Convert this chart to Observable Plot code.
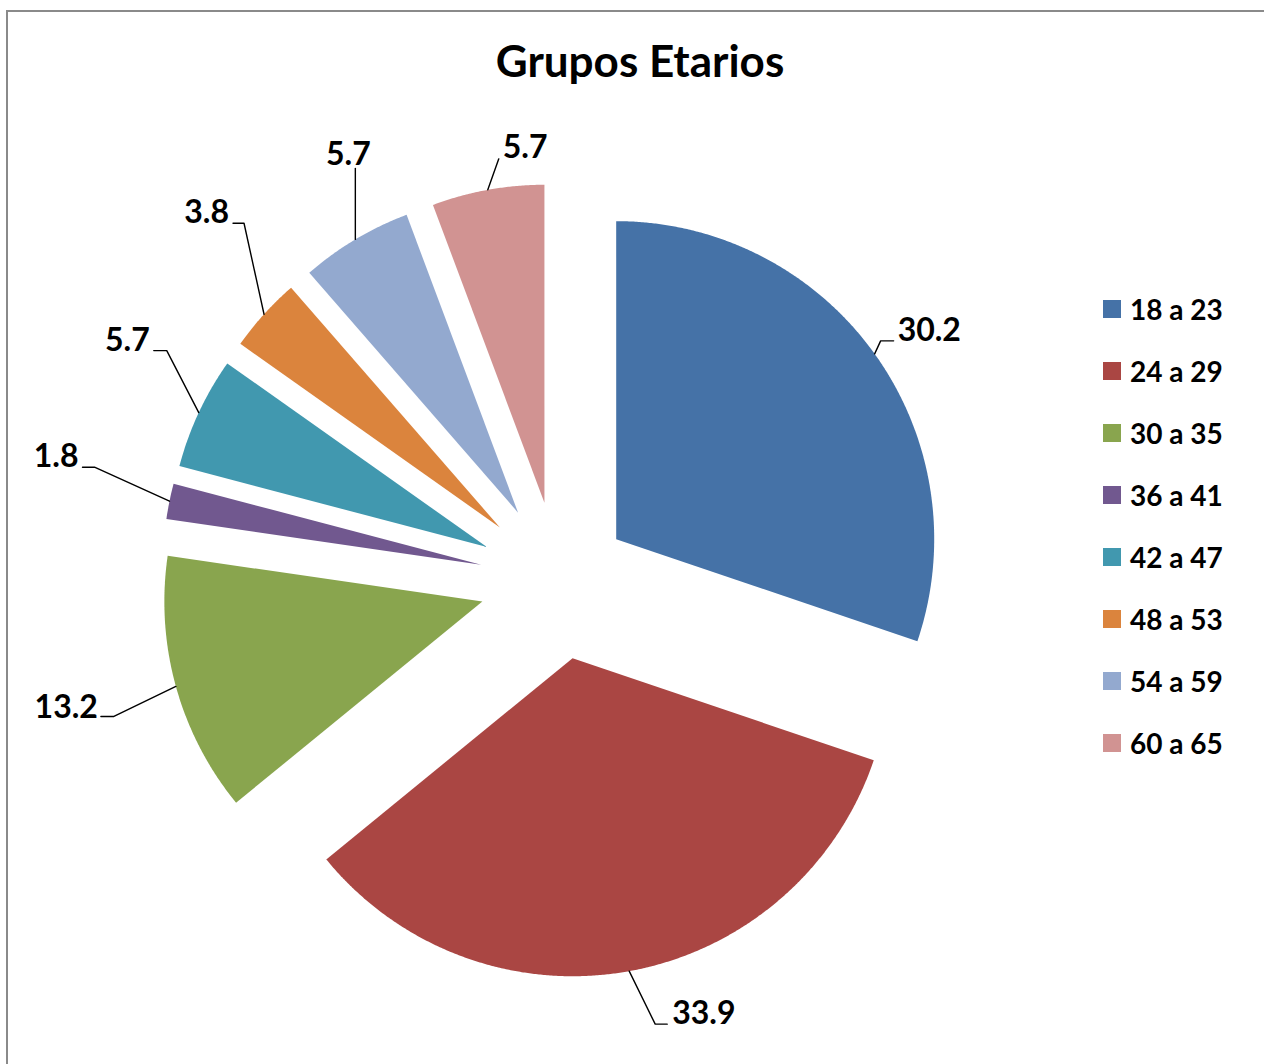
<!DOCTYPE html>
<html>
<head>
<meta charset="utf-8">
<script src="https://cdn.jsdelivr.net/npm/d3@7"></script>
<script src="https://cdn.jsdelivr.net/npm/@observablehq/plot@0.6"></script>
<style>
  body { margin: 0; background: #fff; font-family: Lato, "Open Sans", sans-serif; }
  #frame { position: absolute; left: 6px; top: 10px; width: 1400px; height: 1200px;
           border-left: 2px solid #8a8a8a; border-top: 2px solid #8a8a8a; pointer-events: none; }
  #title { position: relative; height: 100px; }
  #title span { position: absolute; left: 0; width: 1280px; text-align: center; top: 38px;
                font-size: 44px; font-weight: 700; color: #000; line-height: 1; }
  #chart { position: relative; }
  #legend { position: absolute; left: 1103px; top: 278px; }
  .row { height: 62px; display: flex; align-items: center; }
  .sw { width: 18px; height: 18px; margin-right: 9px; }
  .lab { font-size: 28px; font-weight: 700; color: #000; line-height: 1; }
</style>
</head>
<body>
<div id="title"><span>Grupos Etarios</span></div>
<div id="chart"></div>
<div id="legend"></div>
<div id="frame"></div>
<script>
// ---- data ----
const categories = ["18 a 23", "24 a 29", "30 a 35", "36 a 41", "42 a 47", "48 a 53", "54 a 59", "60 a 65"];
const values = [30.2, 33.9, 13.2, 1.8, 5.7, 3.8, 5.7, 5.7];
const colors = ["#4572A7", "#AA4643", "#89A54E", "#71588F", "#4198AF", "#DB843D", "#93A9CF", "#D19392"];

// ---- layout (pixels) ----
const W = 1264, H = 964;
const CX = 558, CY = 480, R = 318;      // pie centre and radius in svg pixels
const explodePx = (i) => (i === 0 ? 71 : 79);
// leader elbow / end / text offsets from the arc point, in pixels (y down)
const labelLayout = [
  {elbow: [6, -13],   end: [19, -13],  text: [23, -13], anchor: "start"},
  {elbow: [26, 53],   end: [38, 53],   text: [43, 53],  anchor: "start"},
  {elbow: [-62, 30],  end: [-75, 30],  text: [-78, 32], anchor: "end"},
  {elbow: [-75, -34], end: [-87, -34], text: [-91, -34], anchor: "end"},
  {elbow: [-32, -62], end: [-45, -62], text: [-49, -62], anchor: "end"},
  {elbow: [-20, -91], end: [-31, -91], text: [-35, -91], anchor: "end"},
  {elbow: [0, -71],   end: [0, -71],   text: [-7, -74], anchor: "middle"},
  {elbow: [11, -31],  end: [11, -31],  text: [15, -32], anchor: "start"}
];

// ---- geometry in pie-radius units (y up) ----
const total = d3.sum(values);
const slices = [], leaders = [], labels = [];
let cum = 0;
values.forEach((v, i) => {
  const a0 = cum / total * 2 * Math.PI;
  cum += v;
  const a1 = cum / total * 2 * Math.PI;
  const m = (a0 + a1) / 2;
  const e = explodePx(i) / R;
  const ax = e * Math.sin(m), ay = e * Math.cos(m);
  const key = categories[i];
  const pts = [{key, x: ax, y: ay}];
  const n = Math.max(4, Math.ceil((a1 - a0) / 0.005));
  for (let k = 0; k <= n; k++) {
    const t = a0 + (a1 - a0) * k / n;
    pts.push({key, x: ax + Math.sin(t), y: ay + Math.cos(t)});
  }
  slices.push({key, color: colors[i], pts});
  const sx = ax + Math.sin(m), sy = ay + Math.cos(m);
  const L = labelLayout[i];
  leaders.push({key, x: sx, y: sy});
  leaders.push({key, x: sx + L.elbow[0] / R, y: sy - L.elbow[1] / R});
  leaders.push({key, x: sx + L.end[0] / R, y: sy - L.end[1] / R});
  labels.push({key, value: v, anchor: L.anchor, x: sx + L.text[0] / R, y: sy - L.text[1] / R});
});

const textOpts = (anchor) => ({
  x: "x", y: "y", text: d => d.value.toFixed(1), textAnchor: anchor, lineAnchor: "bottom",
  fontSize: 32, fontWeight: 700, fill: "#000", fontFamily: "Lato, 'Open Sans', sans-serif"
});

const chart = Plot.plot({
  width: W, height: H,
  margin: 0,
  x: {domain: [-CX / R, (W - CX) / R], axis: null},
  y: {domain: [-(H - CY) / R, CY / R], axis: null},
  style: {background: "transparent", overflow: "visible"},
  marks: [
    ...slices.map(s => Plot.line(s.pts, {x: "x", y: "y", fill: s.color, stroke: "none", curve: "linear-closed"})),
    Plot.line(leaders, {x: "x", y: "y", z: "key", stroke: "#000", strokeWidth: 1.4}),
    Plot.text(labels.filter(d => d.anchor === "start"), textOpts("start")),
    Plot.text(labels.filter(d => d.anchor === "end"), textOpts("end")),
    Plot.text(labels.filter(d => d.anchor === "middle"), textOpts("middle"))
  ]
});
document.getElementById("chart").appendChild(chart);

// ---- legend ----
const legend = d3.select("#legend");
categories.forEach((c, i) => {
  const row = legend.append("div").attr("class", "row");
  row.append("div").attr("class", "sw").style("background", colors[i]);
  row.append("div").attr("class", "lab").text(c);
});
</script>
</body>
</html>
